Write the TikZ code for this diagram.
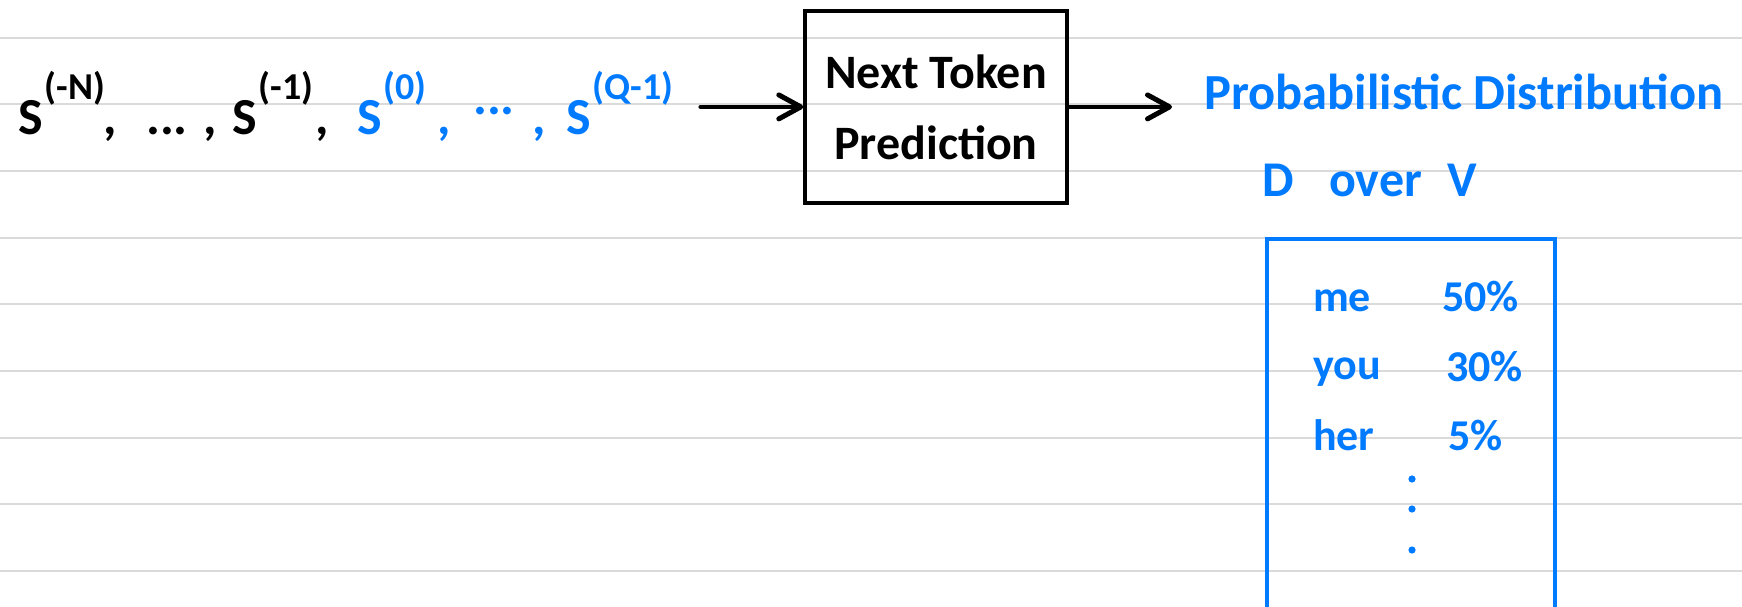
\documentclass[tikz,border=0pt]{standalone}
\usepackage{fontspec}
\setmainfont{Carlito}
\usetikzlibrary{arrows.meta}

\definecolor{penblue}{RGB}{0,122,255}
\definecolor{ruleline}{RGB}{218,218,218}

% a token S with its raised index
\newcommand\tokS[1]{S\hspace{2pt}\raisebox{35pt}{\fontsize{38}{40}\selectfont #1}}

\tikzset{
  rule/.style={ruleline, line width=2pt},
  hand/.style={inner sep=0pt, font=\bfseries\fontsize{#1}{#1}\selectfont},
  procbox/.style={draw=black, line width=4pt, minimum width=261.4pt,
    minimum height=191.2pt, inner sep=0pt, align=center,
    font=\bfseries\fontsize{48}{71}\selectfont},
  distbox/.style={draw=penblue, line width=4pt, minimum width=287.5pt,
    minimum height=369.8pt, inner sep=0pt},
  flow/.style={line width=4pt, line cap=round,
    -{Straight Barb[length=22pt,width=24pt,line width=5pt,round]}},
  entry/.style={hand=44, text=penblue, anchor=base west},
  listdot/.style={fill=penblue, draw=none}
}

\begin{document}
\begin{tikzpicture}[x=1pt,y=-1pt]
\useasboundingbox (0,0) rectangle (1742,607);
\fill[white] (0,0) rectangle (1742,607);

% ruled paper
\foreach \k in {0,...,8}
  \draw[rule] (0,{37.7+66.667*\k}) -- (1742,{37.7+66.667*\k});

% input sequence
\node[hand=52, anchor=base west] (seq) at (18,135) {%
\makebox[85pt][l]{\tokS{(-N)}}%
\makebox[43pt][l]{,}%
\makebox[57pt][l]{...}%
\makebox[29pt][l]{,}%
\makebox[83pt][l]{\tokS{(-1)}}%
\makebox[42pt][l]{,}%
\color{penblue}%
\makebox[80pt][l]{\tokS{(0)}}%
\makebox[36pt][l]{,}%
\makebox[59pt][l]{\raisebox{20pt}{...}}%
\makebox[34pt][l]{,}%
\makebox[118pt][l]{\tokS{(Q-1)}}};

% model
\node[procbox] (ntp) at (936,106.9) {Next Token\\Prediction};
\coordinate (pdin) at (1172,105);

\draw[flow, shorten <=16pt] (seq.east |- ntp.west) -- (ntp.west);
\draw[flow, line width=3.3pt] (ntp.east) -- (ntp.east -| pdin);

% output distribution
\node[hand=50.5, text=penblue, anchor=base west] (pd) at (1204,110)
  {Probabilistic Distribution};
\node[hand=50, text=penblue, anchor=base west] (dv) at (1262,196)
  {\makebox[67pt][l]{D}\makebox[118pt][l]{over}V};

\node[distbox] (dist) at (1410.75,423.6) {};

\node[entry] (w1) at (1313,311) {me};
\node[entry] (p1) at (1442,311) {50\%};
\node[entry] (w2) at (1313,379) {you};
\node[entry] (p2) at (1446,381) {30\%};
\node[entry] (w3) at (1313,450) {her};
\node[entry] (p3) at (1448,450) {5\%};

\fill[listdot] (1412,479) circle (3.6);
\fill[listdot] (1412,509) circle (3.6);
\fill[listdot] (1412,550) circle (3.6);
\end{tikzpicture}
\end{document}
